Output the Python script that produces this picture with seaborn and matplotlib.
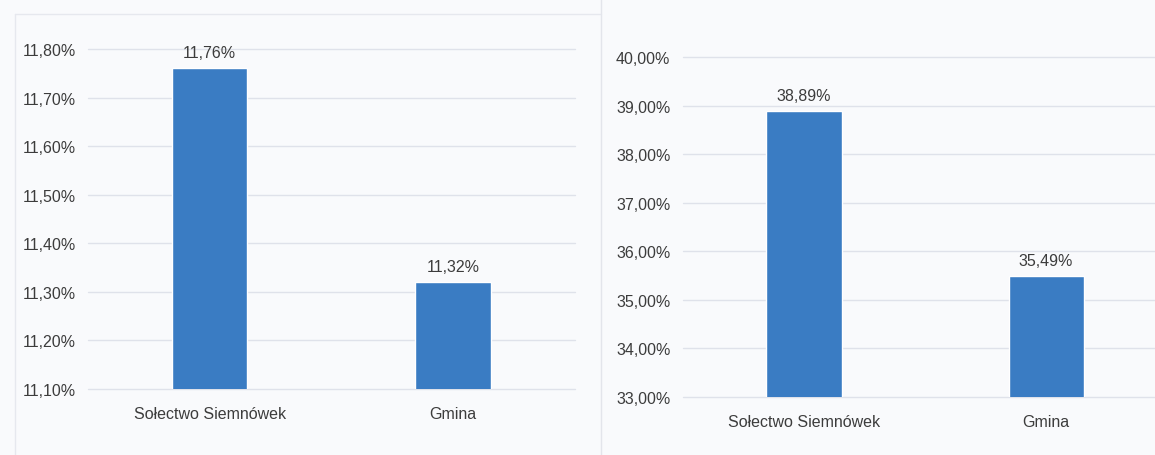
import matplotlib
matplotlib.use("Agg")
import matplotlib.pyplot as plt
from matplotlib.lines import Line2D
import seaborn as sns

# data
categories = ["Sołectwo Siemnówek", "Gmina"]
left_values = [11.76, 11.32]
right_values = [38.89, 35.49]
left_ticks = [11.10, 11.20, 11.30, 11.40, 11.50, 11.60, 11.70, 11.80]
right_ticks = [33, 34, 35, 36, 37, 38, 39, 40]

BAR = "#3a7cc3"
TXT = "#3c3c3c"
BG = "#f9fafc"

sns.set_theme(style="white")
plt.rcParams["font.family"] = ["Liberation Sans", "DejaVu Sans"]

fig = plt.figure(figsize=(11.55, 4.56), dpi=100, facecolor=BG)
ax1 = fig.add_axes([0.0762, 0.1447, 0.4216, 0.7456])
ax2 = fig.add_axes([0.5913, 0.1272, 0.4087, 0.7456])


def pct(v):
    return f"{v:.2f}%".replace(".", ",")


def draw(ax, values, ticks, ylim, xlim_right):
    ax.set_facecolor(BG)
    sns.barplot(x=categories, y=values, color=BAR, width=0.31,
                saturation=1, ax=ax, zorder=3)
    ax.set_ylim(*ylim)
    ax.set_xlim(-0.5, xlim_right)
    ax.set_yticks(ticks)
    ax.set_yticklabels([pct(t) for t in ticks])
    ax.grid(axis="y", color="#dfe2ea", linewidth=1, zorder=0)
    for gl in ax.get_ygridlines():
        gl.set_clip_on(False)
    for s in ax.spines.values():
        s.set_visible(False)
    ax.tick_params(axis="y", length=0, pad=9, labelsize=11.5, labelcolor=TXT)
    ax.tick_params(axis="x", length=0, pad=12, labelsize=11.5, labelcolor=TXT)
    for c in ax.containers:
        ax.bar_label(c, labels=[pct(v) for v in values], padding=6,
                     fontsize=11.5, color=TXT)


draw(ax1, left_values, left_ticks, (11.10, 11.80), 1.5)
draw(ax2, right_values, right_ticks, (33, 40), 1.45)

# faint panel borders
fig.add_artist(Line2D([0.013, 0.52], [0.967, 0.967], color="#e6e8ee", lw=1))
fig.add_artist(Line2D([0.013, 0.013], [0.0, 0.967], color="#e6e8ee", lw=1))
fig.add_artist(Line2D([0.52, 0.52], [0.0, 1.0], color="#e3e5eb", lw=1))

fig.savefig("out.png", dpi=100, facecolor=BG)
